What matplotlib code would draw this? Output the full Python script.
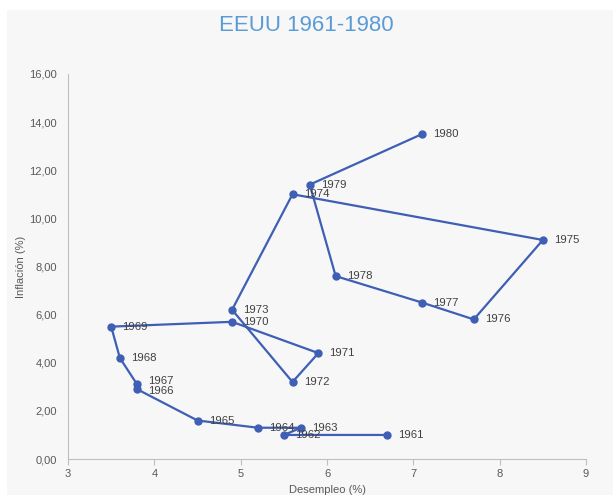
import matplotlib
matplotlib.use("Agg")
import matplotlib.pyplot as plt
from matplotlib.patches import Rectangle

plt.rcParams['font.family'] = ['Liberation Sans', 'DejaVu Sans']

years = [1961, 1962, 1963, 1964, 1965, 1966, 1967, 1968, 1969, 1970,
         1971, 1972, 1973, 1974, 1975, 1976, 1977, 1978, 1979, 1980]
unemployment = [6.7, 5.5, 5.7, 5.2, 4.5, 3.8, 3.8, 3.6, 3.5, 4.9,
                5.9, 5.6, 4.9, 5.6, 8.5, 7.7, 7.1, 6.1, 5.8, 7.1]
inflation = [1.0, 1.0, 1.3, 1.3, 1.6, 2.9, 3.1, 4.2, 5.5, 5.7,
             4.4, 3.2, 6.2, 11.0, 9.1, 5.8, 6.5, 7.6, 11.4, 13.5]

fig = plt.figure(figsize=(6.13, 4.95), dpi=100)
fig.patch.set_facecolor('white')
fig.patches.append(Rectangle((0.012, 0), 0.988, 0.98, transform=fig.transFigure,
                             facecolor='#f7f7f7', edgecolor='none', zorder=-10))

ax = fig.add_axes([0.111, 0.0727, 0.845, 0.778])
ax.set_facecolor('#f7f7f7')
line_color = '#3f5fb5'
ax.plot(unemployment, inflation, color=line_color, lw=1.6, marker='o', ms=5,
        markerfacecolor=line_color, markeredgecolor=line_color)
for x, y, yr in zip(unemployment, inflation, years):
    dy = 0
    if yr == 1967:
        dy = 2.5
    elif yr == 1966:
        dy = -1.5
    ax.annotate(str(yr), (x, y), xytext=(8, dy), textcoords='offset points',
                fontsize=8.2, color='#404040', va='center', ha='left')

ax.set_xlim(3, 9)
ax.set_ylim(0, 16)
ax.set_xticks(range(3, 10))
ax.set_yticks(range(0, 17, 2))
ax.set_yticklabels([f"{v:.2f}".replace('.', ',') for v in range(0, 17, 2)])
for s in ['top', 'right']:
    ax.spines[s].set_visible(False)
for s in ['left', 'bottom']:
    ax.spines[s].set_color('#bfbfbf')
ax.tick_params(axis='both', colors='#bfbfbf', labelcolor='#595959', labelsize=8, length=4)
ax.tick_params(axis='y', length=0, pad=8)
ax.set_xlabel('Desempleo (%)', fontsize=8, color='#595959', labelpad=4)
ax.set_ylabel('Inflación (%)', fontsize=8, color='#595959', labelpad=2)

fig.text(0.5, 0.948, 'EEUU 1961-1980', ha='center', va='center', fontsize=16,
         color='#5b9bd5')

fig.savefig('out.png', dpi=100, facecolor=fig.get_facecolor())
